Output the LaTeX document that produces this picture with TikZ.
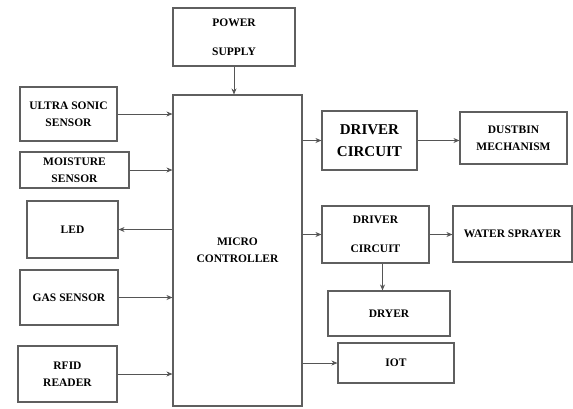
\documentclass[tikz,border=0pt]{standalone}
\usepackage{fontspec}
\setmainfont{Liberation Serif}
\usetikzlibrary{arrows.meta,positioning,calc}
\definecolor{bdr}{RGB}{95,95,95}
\definecolor{arrc}{RGB}{85,85,85}
\tikzset{
  bx/.style={rectangle,draw=bdr,line width=1.1pt,fill=white,
    align=center,font=\bfseries\fontsize{11.5}{17}\selectfont,
    inner sep=1pt},
  bigbx/.style={bx,font=\bfseries\fontsize{15}{22}\selectfont},
  arr/.style={-{Stealth[length=6pt,width=5pt]},line width=0.8pt,color=arrc},
}
\begin{document}
\begin{tikzpicture}[x=1pt,y=-1pt]
    \useasboundingbox (0,0) rectangle (573,408);
    % controller and supply
    \node[bx,minimum width=122pt,minimum height=58pt] (pwr) at (234,37)
      {POWER\\[12pt]SUPPLY};
    \node[bx,minimum width=129pt,minimum height=311pt] (mc) at (237.5,250.5)
      {MICRO\\CONTROLLER};
    % left column
    \node[bx,minimum width=97pt,minimum height=54pt] (us) at (68.5,114)
      {ULTRA SONIC\\SENSOR};
    \node[bx,minimum width=109pt,minimum height=36pt] (moist) at (74.5,170)
      {MOISTURE\\SENSOR};
    \node[bx,minimum width=91pt,minimum height=57pt] (led) at (72.5,229.5)
      {LED};
    \node[bx,minimum width=98pt,minimum height=55pt] (gas) at (69,297.5)
      {GAS SENSOR};
    \node[bx,minimum width=99pt,minimum height=56pt] (rfid) at (67.5,374)
      {RFID\\READER};
    % right side
    \node[bigbx,minimum width=95pt,minimum height=59pt] (drv1) at (369.5,140.5)
      {DRIVER\\CIRCUIT};
    \node[bx,minimum width=107pt,minimum height=52pt] (dust) at (513.5,138)
      {DUSTBIN\\MECHANISM};
    \node[bx,minimum width=107pt,minimum height=57pt] (drv2) at (375.5,234.5)
      {DRIVER\\[12pt]CIRCUIT};
    \node[bx,minimum width=119pt,minimum height=56pt] (water) at (512.5,234)
      {WATER SPRAYER};
    \node[bx,minimum width=122pt,minimum height=45pt] (dryer) at (389,313.5)
      {DRYER};
    \node[bx,minimum width=116pt,minimum height=40pt] (iot) at (396,363)
      {IOT};

    \draw[arr] (pwr.south) -- (pwr.south |- mc.north);
    \draw[arr] (us.east) -- (us.east -| mc.west);
    \draw[arr] (moist.east) -- (moist.east -| mc.west);
    \draw[arr] (mc.west |- led.east) -- (led.east);
    \draw[arr] (gas.east) -- (gas.east -| mc.west);
    \draw[arr] (rfid.east) -- (rfid.east -| mc.west);
    \draw[arr] (mc.east |- drv1.west) -- (drv1.west);
    \draw[arr] (drv1.east) -- (drv1.east -| dust.west);
    \draw[arr] (mc.east |- drv2.west) -- (drv2.west);
    \draw[arr] (drv2.east) -- (drv2.east -| water.west);
    \draw[arr] ([xshift=7pt]drv2.south) -- ([xshift=7pt]drv2.south |- dryer.north);
    \draw[arr] (mc.east |- iot.west) -- (iot.west);
  \end{tikzpicture}
\end{document}
